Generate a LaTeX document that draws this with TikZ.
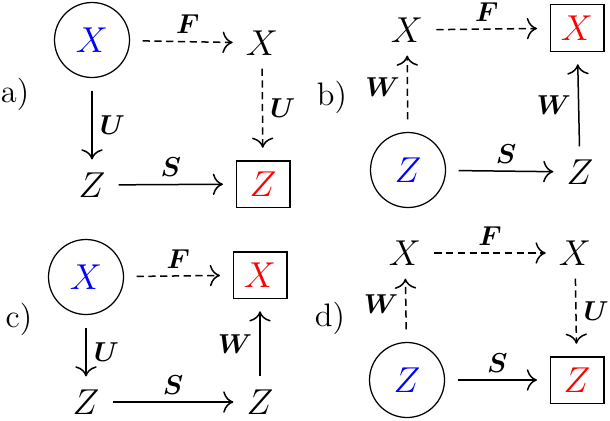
\documentclass[tikz,border=0pt]{standalone}
\usepackage{amsmath}
\usepackage{bm}
\usetikzlibrary{arrows.meta}
\tikzset{
  plain/.style={inner sep=0pt, outer sep=0.3pt, font=\fontsize{14}{16}\selectfont},
  circ/.style={circle, draw, line width=0.5pt, minimum size=30pt, inner sep=0pt, text=blue, font=\fontsize{14}{16}\selectfont},
  boxn/.style={rectangle, draw, line width=0.5pt, minimum width=21.5pt, minimum height=18.5pt, inner sep=0pt, text=red, font=\fontsize{14}{16}\selectfont},
  panel/.style={inner sep=0pt, font=\fontsize{13}{15}\selectfont},
  arr/.style={-{To[scale=1.4]}, line width=0.6pt, shorten >=5pt, shorten <=5pt},
  darr/.style={arr, dash pattern=on 2.9pt off 1.8pt},
  lbl/.style={font=\fontsize{10.5}{12}\selectfont, inner sep=2.8pt}
}
\begin{document}
\begin{tikzpicture}[x=0.4pt,y=-0.4pt]
\useasboundingbox (0,0) rectangle (610,420);
% panel a
\node[panel] (la) at (15,94) {a)};
\node[circ] (a1) at (92,40) {$X$};
\node[plain] (a2) at (262,43) {$X$};
\node[plain] (a3) at (92,185) {$Z$};
\node[boxn] (a4) at (263,184) {$Z$};
\draw[darr] (a1) -- node[lbl,above] {$\bm{F}$} (a2);
\draw[arr] (a1) -- node[lbl,right] {$\bm{U}$} (a3);
\draw[darr] (a2) -- node[lbl,right] {$\bm{U}$} (a4);
\draw[arr] (a3) -- node[lbl,above] {$\bm{S}$} (a4);
% panel b
\node[panel] (lb) at (332,97) {b)};
\node[plain] (b1) at (407,30) {$X$};
\node[boxn] (b2) at (577,28) {$X$};
\node[circ] (b3) at (408,170) {$Z$};
\node[plain] (b4) at (580,172) {$Z$};
\draw[darr] (b1) -- node[lbl,above] {$\bm{F}$} (b2);
\draw[darr] (b3) -- node[lbl,left] {$\bm{W}$} (b1);
\draw[arr] (b4) -- node[lbl,left] {$\bm{W}$} (b2);
\draw[arr] (b3) -- node[lbl,above] {$\bm{S}$} (b4);
% panel c
\node[panel] (lc) at (19,319) {c)};
\node[circ] (c1) at (86,277) {$X$};
\node[boxn] (c2) at (260,275) {$X$};
\node[plain] (c3) at (86,402) {$Z$};
\node[plain] (c4) at (260,402) {$Z$};
\draw[darr] (c1) -- node[lbl,above] {$\bm{F}$} (c2);
\draw[arr] (c1) -- node[lbl,right] {$\bm{U}$} (c3);
\draw[arr] (c4) -- node[lbl,left] {$\bm{W}$} (c2);
\draw[arr] (c3) -- node[lbl,above] {$\bm{S}$} (c4);
% panel d
\node[panel] (ld) at (330,318) {d)};
\node[plain] (d1) at (405,253) {$X$};
\node[plain] (d2) at (575,253) {$X$};
\node[circ] (d3) at (407,380) {$Z$};
\node[boxn] (d4) at (577,380) {$Z$};
\draw[darr] (d1) -- node[lbl,above] {$\bm{F}$} (d2);
\draw[darr] (d3) -- node[lbl,left] {$\bm{W}$} (d1);
\draw[darr] (d2) -- node[lbl,right] {$\bm{U}$} (d4);
\draw[arr] (d3) -- node[lbl,above] {$\bm{S}$} (d4);
\end{tikzpicture}
\end{document}
